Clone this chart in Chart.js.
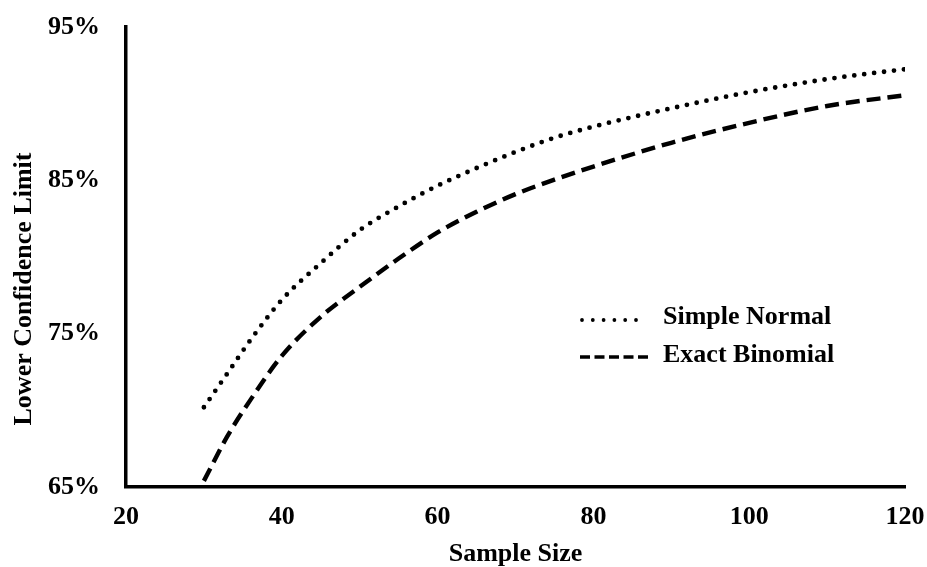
<!DOCTYPE html>
<html>
<head>
<meta charset="utf-8">
<script src="https://cdn.jsdelivr.net/npm/chart.js@4/dist/chart.umd.min.js"></script>
<style>
  html, body { margin: 0; padding: 0; background: #fff; }
  #wrap { width: 927px; height: 567px; }
</style>
</head>
<body>
<div id="wrap"><canvas id="chart" width="927" height="567"></canvas></div>
<script>
// Sample sizes and lower confidence limits (%)
const sampleSizes   = [30, 33, 36, 40, 45, 50, 55, 60, 65, 70, 75, 80, 90, 100, 110, 120];
const simpleNormal  = [70.2, 72.4, 74.6, 77.2, 79.6, 81.75, 83.3, 84.65, 85.8, 86.85, 87.78, 88.5, 89.7, 90.75, 91.6, 92.25];
const exactBinomial = [65.4, 68.3, 70.7, 73.55, 76.1, 78.05, 79.9, 81.6, 82.95, 84.1, 85.05, 85.9, 87.45, 88.75, 89.85, 90.55];
const seriesNames   = ['Simple Normal', 'Exact Binomial'];
const yTitle = 'Lower Confidence Limit';
const xTitle = 'Sample Size';

const FONT = 'Liberation Serif';
const FONT_SIZE = 26;

// Legend inside the plot + rotated y title, Excel style
const extras = {
    id: 'extras',
    afterDraw(chart) {
        const ctx = chart.ctx;
        const rows = [317, 355];
        ctx.save();
        chart.data.datasets.forEach((ds, i) => {
            const y = rows[i];
            ctx.beginPath();
            ctx.strokeStyle = '#000';
            if (i === 0) {
                ctx.lineWidth = 3.8;
                ctx.lineCap = 'round';
                ctx.setLineDash([0, 10.8]);
                ctx.moveTo(582, y + 3);
                ctx.lineTo(646, y + 3);
            } else {
                ctx.lineWidth = 3.6;
                ctx.lineCap = 'butt';
                ctx.setLineDash([10, 4.5]);
                ctx.moveTo(580, y + 2);
                ctx.lineTo(648, y + 2);
            }
            ctx.stroke();
            ctx.setLineDash([]);
            ctx.fillStyle = '#000';
            ctx.font = 'bold ' + FONT_SIZE + 'px "' + FONT + '"';
            ctx.textBaseline = 'middle';
            ctx.textAlign = 'left';
            ctx.fillText(ds.label, 663, y);
        });

        // y axis title
        ctx.translate(24, 289);
        ctx.rotate(-Math.PI / 2);
        ctx.textAlign = 'center';
        ctx.textBaseline = 'middle';
        ctx.font = 'bold ' + FONT_SIZE + 'px "' + FONT + '"';
        ctx.fillText(yTitle, 0, 0);
        ctx.restore();
    }
};

const ctx = document.getElementById('chart').getContext('2d');
new Chart(ctx, {
    type: 'line',
    data: {
        datasets: [{
            label: seriesNames[0],
            data: sampleSizes.map((n, i) => ({ x: n, y: simpleNormal[i] })),
            borderColor: '#000',
            borderWidth: 4.8,
            borderDash: [0, 10],
            borderCapStyle: 'round',
            pointRadius: 0,
            cubicInterpolationMode: 'monotone',
            fill: false
        }, {
            label: seriesNames[1],
            data: sampleSizes.map((n, i) => ({ x: n, y: exactBinomial[i] })),
            borderColor: '#000',
            borderWidth: 4.4,
            borderDash: [14, 7],
            borderCapStyle: 'butt',
            pointRadius: 0,
            cubicInterpolationMode: 'monotone',
            fill: false
        }]
    },
    options: {
        responsive: false,
        animation: false,
        layout: { padding: { top: 27, right: 22, left: 0, bottom: 0 } },
        plugins: { legend: { display: false }, tooltip: { enabled: false } },
        scales: {
            x: {
                type: 'linear',
                min: 20, max: 120,
                afterFit(scale) {
                    scale.height = 80;
                    scale.paddingLeft = 0;
                    scale.paddingRight = 0;
                },
                ticks: {
                    stepSize: 20,
                    padding: 15,
                    color: '#000',
                    font: { family: FONT, size: FONT_SIZE, weight: 'bold' }
                },
                grid: { display: false, drawTicks: false },
                border: { display: true, color: '#000', width: 3.5 },
                title: {
                    display: true,
                    text: xTitle,
                    color: '#000',
                    padding: { top: 0, bottom: 0 },
                    font: { family: FONT, size: FONT_SIZE, weight: 'bold', lineHeight: 1.0 }
                }
            },
            y: {
                min: 65, max: 95,
                afterFit(scale) {
                    scale.width = 126;
                    scale.paddingTop = 0;
                    scale.paddingBottom = 0;
                },
                ticks: {
                    stepSize: 10,
                    padding: 26,
                    color: '#000',
                    callback: v => v + '%',
                    font: { family: FONT, size: FONT_SIZE, weight: 'bold' }
                },
                grid: { display: false, drawTicks: false },
                border: { display: true, color: '#000', width: 3.5 }
            }
        }
    },
    plugins: [extras]
});
</script>
</body>
</html>
